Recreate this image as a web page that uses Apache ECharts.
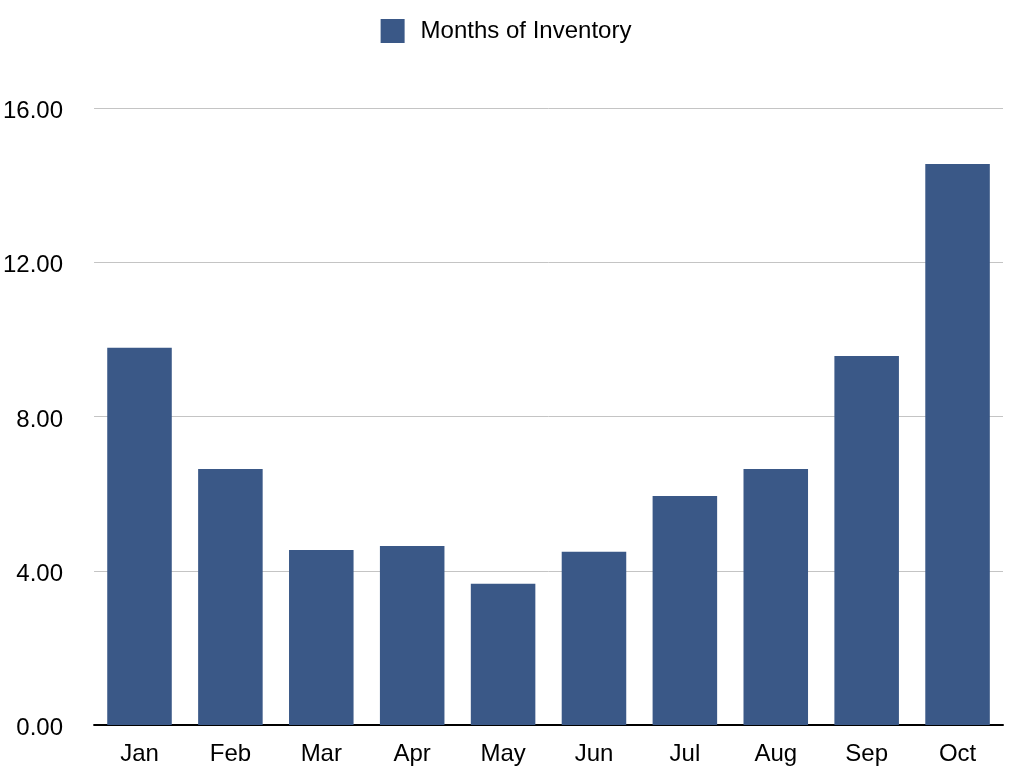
<!DOCTYPE html>
<html>
<head>
<meta charset="utf-8">
<script src="https://cdn.jsdelivr.net/npm/echarts@6/dist/echarts.min.js"></script>
<style>
  html, body { margin: 0; padding: 0; background: #fff; }
  #main { width: 1012px; height: 778px; }
</style>
</head>
<body>
<div id="main"></div>
<script>
var months = ["Jan", "Feb", "Mar", "Apr", "May", "Jun", "Jul", "Aug", "Sep", "Oct"];
var inventory = [9.78, 6.64, 4.54, 4.64, 3.66, 4.49, 5.94, 6.64, 9.57, 14.55];
var seriesName = "Months of Inventory";

var chart = echarts.init(document.getElementById("main"));
var font = "Liberation Sans, Arial, Helvetica, sans-serif";

var option = {
  animation: false,
  legend: {
    top: 14,
    left: "center",
    itemWidth: 24,
    itemHeight: 24,
    icon: "rect",
    textStyle: { fontFamily: font, fontSize: 24, color: "#000", padding: [0, 0, 0, 11] },
    data: [seriesName]
  },
  grid: { left: 94, right: 9, top: 108, bottom: 53, containLabel: false },
  xAxis: {
    type: "category",
    data: months,
    axisLine: { lineStyle: { color: "#000", width: 2 } },
    axisTick: { show: false },
    axisLabel: { fontFamily: font, fontSize: 24, color: "#000", margin: 17 }
  },
  yAxis: {
    type: "value",
    min: 0,
    max: 16,
    interval: 4,
    axisLine: { show: false },
    axisTick: { show: false },
    splitLine: { lineStyle: { color: "#c4c4c4", width: 1 } },
    axisLabel: {
      fontFamily: font, fontSize: 24, color: "#000", margin: 31,
      formatter: function (v) { return "{v|" + v.toFixed(2) + "}"; },
      rich: { v: { fontFamily: font, fontSize: 24, color: "#000", padding: [7, 0, 0, 0] } }
    }
  },
  series: [{
    name: seriesName,
    type: "bar",
    data: inventory,
    barCategoryGap: "29%",
    itemStyle: { color: "#3a5887" }
  }]
};
chart.setOption(option);
</script>
</body>
</html>
